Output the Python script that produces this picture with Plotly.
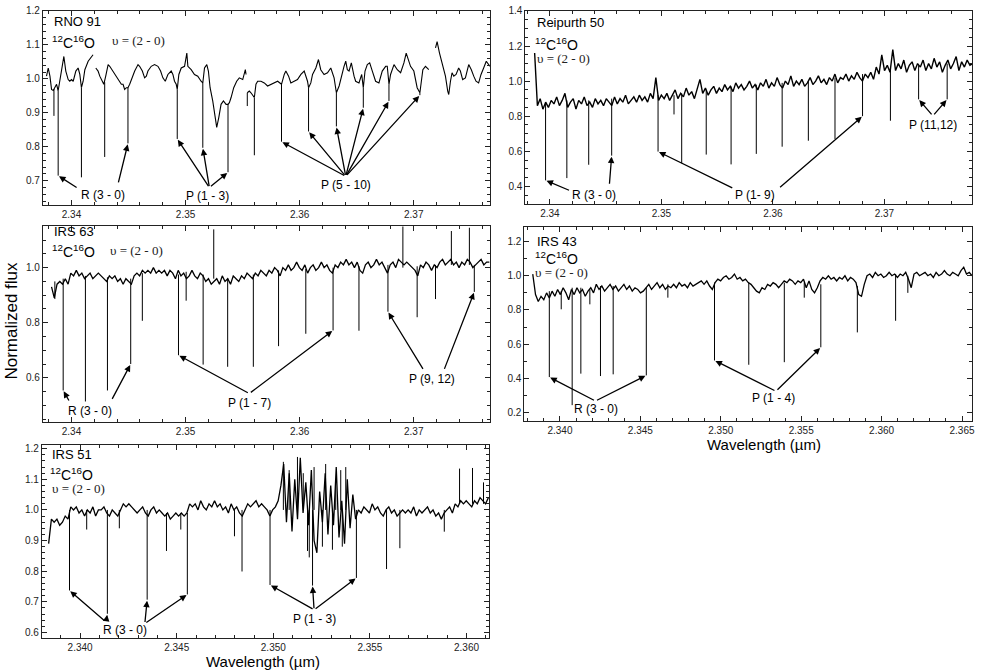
import numpy as np
import plotly.graph_objects as go

W, H = 981, 672

# ---------------- RNO 91 (irregularly read samples, None = gap) ----------------
RNO91_WL = [2.33781, 2.33796, 2.33811, 2.33825, 2.33840, 2.33854, 2.33869, 2.33883, 2.33898, 2.33913,
            2.33933, 2.33950, 2.33971, 2.33985, 2.34000, 2.34015, 2.34038, 2.34058, 2.34073, 2.34087,
            2.34102, 2.34117, 2.34146, 2.34189, 2.34201, 2.34213, 2.34233, 2.34248, 2.34271, 2.34283,
            2.34300, 2.34321, 2.34335, 2.34364, 2.34393, 2.34422, 2.34437, 2.34452, 2.34466, 2.34481,
            2.34495, 2.34510, 2.34524, 2.34554, 2.34583, 2.34597, 2.34621, 2.34641, 2.34656, 2.34670,
            2.34699, 2.34728, 2.34758, 2.34781, 2.34801, 2.34822, 2.34845, 2.34874, 2.34889, 2.34903,
            2.34918, 2.34927, 2.34941, 2.34962, 2.34991, 2.35011, 2.35020, 2.35049, 2.35078, 2.35107,
            2.35136, 2.35151, 2.35166, 2.35186, 2.35200, 2.35215, 2.35238, 2.35262, 2.35273, 2.35291,
            2.35311, 2.35332, 2.35355, 2.35372, 2.35384, 2.35399, 2.35422, 2.35448, 2.35471, 2.35501,
            2.35524, 2.35530, 2.35536, 2.35541, 2.35559, 2.35573, 2.35588, 2.35603, 2.35617, 2.35632,
            2.35661, 2.35690, 2.35719, 2.35748, 2.35778, 2.35807, 2.35841, 2.35850, 2.35865, 2.35879,
            2.35903, 2.35923, 2.35952, 2.35981, 2.36011, 2.36040, 2.36069, 2.36078, 2.36098, 2.36113,
            2.36142, 2.36165, 2.36185, 2.36214, 2.36244, 2.36273, 2.36302, 2.36316, 2.36322, 2.36346,
            2.36375, 2.36389, 2.36404, 2.36418, 2.36433, 2.36453, 2.36477, 2.36491, 2.36520, 2.36544,
            2.36558, 2.36573, 2.36593, 2.36614, 2.36637, 2.36666, 2.36695, 2.36724, 2.36754, 2.36768,
            2.36783, 2.36797, 2.36827, 2.36856, 2.36885, 2.36914, 2.36934, 2.36952, 2.36972, 2.37001,
            2.37030, 2.37054, 2.37068, 2.37080, 2.37103, 2.37132, 2.37150, 2.37191, 2.37205, 2.37226,
            2.37249, 2.37278, 2.37298, 2.37307, 2.37322, 2.37336, 2.37351, 2.37371, 2.37394, 2.37409,
            2.37429, 2.37453, 2.37482, 2.37505, 2.37526, 2.37546, 2.37569, 2.37590, 2.37613, 2.37636,
            2.37657, 2.37671]
RNO91_FLUX = [1.008, 1.032, 1.008, 0.969, 0.966, 0.974, 0.984, 0.965, 0.993, 1.023,
              1.066, 1.023, 0.998, 0.993, 0.998, 0.993, 1.023, 1.032, 1.013, 0.974,
              0.993, 1.027, 1.052, 1.071, None, 1.032, 1.023, 1.008, 0.993, 0.984,
              1.008, 1.042, 1.037, 1.023, 1.008, 0.993, 0.984, 0.984, 0.969, 0.974,
              0.974, 0.984, 0.998, 1.023, 1.042, 1.037, 1.023, 1.003, 1.008, 1.023,
              1.037, 1.042, 1.037, 1.023, 1.003, 0.993, 1.013, 1.023, 1.013, 0.993,
              0.984, 0.969, 1.013, 1.032, 1.037, 1.076, 1.037, 1.027, 1.013, 1.008,
              0.993, 0.988, 1.032, 1.042, 1.023, 0.974, 0.935, 0.886, 0.857, 0.886,
              0.925, 0.935, 0.925, 0.925, 0.930, 0.945, 0.974, 0.993, 1.003, 0.998,
              1.027, 1.013, None, 0.959, 0.964, 0.959, 0.950, 0.945, 0.984, 0.993,
              0.993, 0.988, 0.979, 0.984, 0.988, 0.993, 0.984, 0.998, 1.013, 1.023,
              1.008, 0.988, 0.993, 0.998, 1.013, 1.023, 0.993, 0.974, 0.988, 1.013,
              1.032, 1.057, 1.027, 1.013, 1.018, 1.032, 1.003, 0.964, 0.959, 0.979,
              1.023, 1.037, 1.052, 1.027, 1.023, 1.047, 1.008, 0.993, 0.988, 1.013,
              0.974, 1.023, 1.042, 1.047, 1.023, 0.993, 0.988, 1.023, 1.037, 1.037,
              0.984, 1.013, 1.042, 1.027, 1.018, 1.047, 1.076, 1.057, 1.037, 1.023,
              0.974, 0.959, 0.998, 1.027, 1.037, 1.027, None, 1.091, 1.110, 1.076,
              1.042, 1.008, 0.964, 0.954, 0.993, 1.018, 1.008, 1.013, 1.032, 1.023,
              0.998, 1.003, 1.042, 1.027, 1.008, 0.993, 0.988, 1.013, 1.032, 1.052,
              1.042, 1.037]
RNO91_LINE_WL = [2.33846, 2.33883, 2.34087, 2.34291, 2.34495, 2.34927, 2.35151, 2.35372,
                 2.35541, 2.35603, 2.35841, 2.36078, 2.36322, 2.36558, 2.36783, 2.37054]
RNO91_LINE_TOP = [0.970, 0.965, 0.974, 0.990, 0.974, 0.969, 0.988, 0.925,
                  0.959, 0.945, 0.984, 0.974, 0.959, 0.974, 0.984, 0.959]
RNO91_LINE_BOT = [0.891, 0.715, 0.710, 0.770, 0.810, 0.823, 0.797, 0.725,
                  0.920, 0.775, 0.815, 0.845, 0.860, 0.915, 0.935, 0.952]

# ---------------- Reipurth 50 (uniform sampling) ----------------
REI50_WL_RANGE = (2.33863, 2.37792)
REI50_FLUX = [1.16, 0.86, 0.90, 0.84, 0.88, 0.85, 0.89, 0.87, 0.91, 0.86,
              0.89, 0.93, 0.85, 0.88, 0.90, 0.84, 0.89, 0.87, 0.91, 0.86,
              0.88, 0.85, 0.90, 0.87, 0.89, 0.86, 0.90, 0.88, 0.86, 0.91,
              0.87, 0.90, 0.88, 0.92, 0.87, 0.89, 0.91, 0.88, 0.92, 0.89,
              0.91, 0.88, 0.93, 0.90, 1.02, 0.89, 0.92, 0.90, 0.93, 0.89,
              0.92, 0.95, 0.90, 0.93, 0.91, 0.96, 0.92, 0.94, 0.90, 0.95,
              1.01, 0.93, 0.96, 0.92, 0.95, 0.97, 0.93, 0.96, 0.94, 0.98,
              0.95, 0.97, 0.94, 0.99, 0.96, 0.98, 0.95, 0.97, 1.00, 0.96,
              0.98, 0.95, 0.99, 0.97, 1.01, 0.96, 0.99, 0.97, 1.02, 0.98,
              0.96, 1.00, 0.98, 1.03, 0.97, 1.00, 0.98, 1.01, 0.97, 0.99,
              1.02, 0.98, 1.00, 1.03, 0.99, 1.01, 0.98, 1.02, 1.00, 1.04,
              0.99, 1.02, 1.01, 1.04, 1.00, 1.03, 1.01, 1.05, 1.02, 1.00,
              1.04, 1.02, 1.05, 1.01, 1.08, 1.04, 1.15, 1.06, 1.09, 1.05,
              1.18, 1.06, 1.10, 1.07, 1.12, 1.05, 1.09, 1.11, 1.06, 1.10,
              1.08, 1.12, 1.06, 1.10, 1.07, 1.13, 1.08, 1.11, 1.05, 1.09,
              1.12, 1.07, 1.10, 1.14, 1.06, 1.11, 1.08, 1.12, 1.09, 1.10]
REI50_LINE_WL = [2.33961, 2.34152, 2.34348, 2.34554, 2.34970, 2.35113, 2.35182, 2.35402, 2.35625,
                 2.35851, 2.36083, 2.36318, 2.36557, 2.36804, 2.37054, 2.37307, 2.37563]
REI50_LINE_TOP = [0.88, 0.89, 0.89, 0.90, 0.92, 0.92, 0.93, 0.95, 0.97,
                  0.98, 0.99, 1.00, 1.02, 1.04, 1.07, 1.09, 1.10]
REI50_LINE_BOT = [0.434, 0.447, 0.523, 0.575, 0.598, 0.810, 0.532, 0.581, 0.525,
                  0.585, 0.626, 0.660, 0.670, 0.800, 0.774, 0.896, 0.896]

# ---------------- IRS 63 (uniform sampling) ----------------
IRS63_WL_RANGE = (2.33825, 2.37663)
IRS63_FLUX = [0.93, 0.89, 0.94, 0.95, 0.94, 0.96, 0.94, 0.98, 0.97, 0.99,
              0.97, 0.98, 0.96, 0.97, 0.98, 0.96, 0.97, 0.98, 0.97, 0.96,
              0.95, 0.97, 0.96, 0.97, 0.95, 0.96, 0.94, 0.96, 0.95, 0.94,
              0.97, 0.98, 0.97, 0.99, 0.98, 0.99, 0.98, 1.00, 0.98, 0.99,
              0.98, 0.99, 0.97, 0.99, 0.98, 0.96, 0.99, 0.97, 0.98, 0.96,
              0.97, 0.99, 0.97, 0.96, 0.98, 0.97, 0.95, 0.96, 0.94, 0.95,
              0.96, 0.94, 0.97, 0.95, 0.96, 0.94, 0.97, 0.96, 0.95, 0.97,
              0.96, 0.98, 0.97, 0.96, 0.98, 0.97, 0.99, 0.98, 0.97, 0.99,
              0.98, 1.00, 0.99, 0.97, 1.00, 0.99, 1.01, 0.99, 1.00, 1.02,
              1.00, 0.99, 1.01, 0.98, 1.00, 1.01, 0.99, 1.00, 1.02, 1.00,
              1.01, 0.99, 0.98, 1.01, 1.00, 1.02, 1.01, 1.03, 1.01, 1.02,
              1.00, 1.02, 0.99, 0.98, 1.01, 1.02, 1.00, 1.01, 1.03, 1.01,
              1.02, 1.00, 0.98, 1.01, 1.02, 1.00, 1.03, 1.02, 1.01, 1.02,
              1.01, 1.00, 0.99, 0.97, 1.01, 1.00, 1.02, 1.01, 0.99, 1.01,
              1.00, 1.02, 1.03, 1.01, 1.02, 1.03, 1.01, 1.02, 1.00, 1.02,
              1.01, 1.03, 1.02, 1.00, 1.01, 1.02, 1.03, 1.01, 1.02, 1.02]
IRS63_LINE_WL = [2.33854, 2.33927, 2.34122, 2.34315, 2.34519, 2.34621, 2.34938, 2.35005,
                 2.35154, 2.35369, 2.35594, 2.35815, 2.36054, 2.36293, 2.36520, 2.36774,
                 2.37030, 2.37191, 2.37531, 2.35247, 2.36905, 2.37330, 2.37488]
IRS63_LINE_TOP = [0.950, 0.960, 0.970, 0.965, 0.960, 0.980, 0.975, 0.985,
                  0.975, 0.960, 0.975, 0.990, 0.995, 1.000, 1.005, 1.010,
                  1.005, 1.010, 1.010, 0.960, 1.000, 1.010, 1.010]
IRS63_LINE_BOT = [0.886, 0.554, 0.514, 0.554, 0.650, 0.807, 0.682, 0.880,
                  0.648, 0.640, 0.640, 0.715, 0.760, 0.772, 0.771, 0.840,
                  0.820, 0.886, 0.912, 1.139, 1.150, 1.133, 1.145]

# ---------------- IRS 43 (uniform sampling) ----------------
IRS43_WL_RANGE = (2.33831, 2.36562)
IRS43_FLUX = [1.01, 0.89, 0.85, 0.88, 0.86, 0.90, 0.87, 0.91, 0.88, 0.92,
              0.89, 0.93, 0.90, 0.86, 0.92, 0.89, 0.93, 0.90, 0.92, 0.88,
              0.91, 0.93, 0.90, 0.95, 0.92, 0.94, 0.91, 0.93, 0.95, 0.92,
              0.94, 0.91, 0.93, 0.95, 0.92, 0.94, 0.91, 0.93, 0.92, 0.90,
              0.91, 0.93, 0.95, 0.92, 0.94, 0.96, 0.93, 0.95, 0.92, 0.94,
              0.93, 0.95, 0.93, 0.96, 0.94, 0.95, 0.93, 0.96, 0.94, 0.95,
              0.96, 0.97, 0.95, 0.97, 0.94, 0.92, 0.96, 0.98, 0.97, 0.99,
              1.00, 0.98, 0.99, 1.01, 0.98, 0.99, 0.97, 0.98, 0.96, 0.95,
              0.93, 0.91, 0.90, 0.93, 0.92, 0.95, 0.94, 0.96, 0.95, 0.93,
              0.95, 0.97, 0.96, 0.98, 0.97, 0.95, 0.97, 0.96, 0.98, 0.93,
              0.97, 0.92, 0.90, 0.93, 0.97, 0.99, 0.98, 1.00, 0.98, 0.99,
              0.97, 0.99, 0.98, 1.00, 0.97, 0.99, 0.98, 0.96, 0.89, 0.88,
              0.95, 1.00, 1.01, 0.99, 1.02, 1.00, 1.01, 0.99, 1.00, 1.02,
              1.00, 1.01, 0.99, 1.01, 1.00, 1.02, 0.98, 0.93, 1.01, 1.02,
              1.00, 1.01, 1.02, 1.00, 1.01, 0.99, 1.02, 1.00, 1.01, 1.03,
              1.01, 1.00, 1.02, 1.01, 1.00, 1.03, 1.05, 1.01, 1.02, 1.00]
IRS43_LINE_WL = [2.33934, 2.34008, 2.34076, 2.34130, 2.34186, 2.34252, 2.34331, 2.34537, 2.34671,
                 2.34961, 2.35174, 2.35395, 2.35519, 2.35622, 2.35849, 2.36087, 2.36163]
IRS43_LINE_TOP = [0.91, 0.91, 0.93, 0.93, 0.92, 0.94, 0.94, 0.93, 0.95,
                  0.96, 0.96, 0.96, 0.96, 0.95, 0.94, 1.01, 1.00]
IRS43_LINE_BOT = [0.408, 0.804, 0.244, 0.428, 0.833, 0.414, 0.424, 0.418, 0.872,
                  0.505, 0.480, 0.495, 0.872, 0.582, 0.669, 0.737, 0.900]

# ---------------- IRS 51 (uniform sampling) ----------------
IRS51_WL_RANGE = (2.33837, 2.36113)
IRS51_FLUX = [0.89, 0.97, 0.96, 0.97, 0.95, 0.96, 0.98, 0.97, 1.01, 1.00,
              1.01, 0.99, 1.00, 0.98, 1.00, 0.99, 1.01, 0.98, 1.00, 1.00,
              1.01, 0.99, 0.98, 1.00, 0.99, 0.98, 1.00, 1.02, 1.01, 1.02,
              1.01, 1.00, 0.99, 1.00, 1.01, 0.99, 0.98, 1.00, 1.01, 0.99,
              1.00, 0.99, 0.98, 0.99, 0.97, 0.98, 0.99, 0.98, 0.99, 0.98,
              0.99, 1.02, 1.01, 1.02, 1.00, 1.03, 1.01, 1.00, 1.02, 1.01,
              1.03, 1.01, 1.02, 1.00, 1.01, 0.99, 1.02, 1.00, 1.01, 0.99,
              0.98, 1.00, 1.02, 1.01, 1.02, 1.03, 1.01, 1.02, 1.01, 1.00,
              0.98, 1.00, 1.01, 1.03, 1.08, 1.15, 0.96, 1.12, 0.93, 1.10,
              0.97, 1.17, 0.99, 1.09, 0.95, 1.13, 0.90, 0.86, 1.06, 0.96,
              1.12, 0.92, 1.08, 0.95, 1.14, 0.91, 1.03, 0.89, 1.10, 0.94,
              1.05, 0.97, 1.00, 0.99, 1.01, 1.00, 0.99, 1.02, 1.00, 1.01,
              0.99, 0.98, 1.00, 1.01, 0.99, 1.00, 0.98, 0.99, 1.00, 0.99,
              1.00, 0.99, 1.01, 0.98, 1.00, 0.99, 1.00, 1.01, 0.99, 1.00,
              0.98, 0.99, 0.97, 0.99, 1.00, 1.01, 0.99, 1.02, 1.01, 1.03,
              1.02, 1.03, 1.02, 1.01, 1.03, 1.02, 1.04, 1.03, 1.02, 1.04]
IRS51_LINE_WL = [2.33945, 2.34034, 2.34141, 2.34203, 2.34347, 2.34447, 2.34521, 2.34555,
                 2.34799, 2.34838, 2.34983, 2.35203, 2.35430, 2.35586, 2.35655, 2.35885,
                 2.35964, 2.36031, 2.36088,
                 2.35052, 2.35082, 2.35125, 2.35155, 2.35211, 2.35271, 2.35323, 2.35349,
                 2.35375, 2.35177, 2.35186, 2.35254, 2.35306, 2.35357]
IRS51_LINE_TOP = [1.00, 1.00, 1.00, 1.00, 1.00, 0.99, 0.99, 0.99,
                  1.00, 1.00, 1.00, 1.00, 1.00, 1.00, 1.00, 1.00,
                  1.02, 1.02, 1.02,
                  1.00, 1.00, 1.00, 1.00, 1.00, 1.00, 1.00, 1.00,
                  1.00, 1.00, 1.00, 1.00, 1.00, 1.00]
IRS51_LINE_BOT = [0.737, 0.936, 0.661, 0.940, 0.707, 0.866, 0.936, 0.724,
                  0.914, 0.799, 0.755, 0.753, 0.778, 0.807, 0.875, 0.929,
                  1.135, 1.137, 1.090,
                  1.157, 1.130, 1.173, 1.120, 1.140, 1.150, 1.100, 1.130,
                  1.140, 0.866, 0.845, 0.880, 0.870, 0.880]

# ---------------- annotation texts & arrows ----------------
# arrows: (tail wavelength, tail flux, index of target line)
RNO91_LABELS = [("R (3 - 0)", 2.34277, 0.657), ("P (1 - 3)", 2.35195, 0.654), ("P (5 - 10)", 2.36404, 0.686)]
RNO91_ARROWS = [(2.34058, 0.677, 1), (2.34408, 0.691, 4),
                (2.35209, 0.680, 5), (2.35209, 0.680, 6), (2.35209, 0.680, 7),
                (2.36404, 0.713, 10), (2.36404, 0.713, 11), (2.36404, 0.713, 12),
                (2.36404, 0.713, 13), (2.36404, 0.713, 14), (2.36404, 0.713, 15)]
REI50_LABELS = [("R (3 - 0)", 2.34399, 0.349), ("P (1- 9)", 2.35842, 0.349), ("P (11,12)", 2.37435, 0.751)]
REI50_ARROWS = [(2.34185, 0.374, 0), (2.34533, 0.406, 3),
                (2.35649, 0.387, 4), (2.36051, 0.387, 13),
                (2.37435, 0.802, 15), (2.37435, 0.802, 16)]
IRS63_LABELS = [("R (3 - 0)", 2.34160, 0.478), ("P (1 - 7)", 2.35559, 0.507), ("P (9, 12)", 2.37161, 0.596)]
IRS63_ARROWS = [(2.33985, 0.512, 1), (2.34350, 0.518, 4),
                (2.35559, 0.543, 6), (2.35559, 0.543, 13),
                (2.37089, 0.627, 15), (2.37264, 0.627, 18)]
IRS43_LABELS = [("R (3 - 0)", 2.34227, 0.221), ("P (1 - 4)", 2.35329, 0.283)]
IRS43_ARROWS = [(2.34221, 0.268, 0), (2.34221, 0.268, 7),
                (2.35343, 0.325, 9), (2.35343, 0.325, 13)]
IRS51_LABELS = [("R (3 - 0)", 2.34232, 0.608), ("P (1 - 3)", 2.35211, 0.645)]
IRS51_ARROWS = [(2.34134, 0.634, 0), (2.34134, 0.634, 2),
                (2.34335, 0.629, 4), (2.34335, 0.629, 7),
                (2.35211, 0.674, 10), (2.35211, 0.674, 11), (2.35211, 0.674, 12)]

NAMES = ["RNO 91", "Reipurth 50", "IRS 63", "IRS 43", "IRS 51"]

# ---------------- layout geometry (pixels) ----------------
def fx(p):
    return p / W


def fy(p):
    return 1 - p / H


PANELS = [
    dict(name=NAMES[0], wl=RNO91_WL, flux=RNO91_FLUX, lw=RNO91_LINE_WL, lt=RNO91_LINE_TOP, lb=RNO91_LINE_BOT,
         labels=RNO91_LABELS, arrows=RNO91_ARROWS, box=(43, 492, 6, 201), xr=(2.33749, 2.37673), yr=(0.63, 1.2),
         xd=0.01, xm=0.002, xf=".2f", yd=0.1, ym=0.02, t=(52, 17), c=(50, 37), v=(110, 36), w=1.1),
    dict(name=NAMES[1], wl=np.linspace(*REI50_WL_RANGE, len(REI50_FLUX)), flux=REI50_FLUX,
         lw=REI50_LINE_WL, lt=REI50_LINE_TOP, lb=REI50_LINE_BOT,
         labels=REI50_LABELS, arrows=REI50_ARROWS, box=(527, 975, 6, 200), xr=(2.3378, 2.37786), yr=(0.302, 1.4),
         xd=0.01, xm=0.002, xf=".2f", yd=0.2, ym=0.05, t=(537, 18), c=(535, 39), v=(537, 54), w=1.4),
    dict(name=NAMES[2], wl=np.linspace(*IRS63_WL_RANGE, len(IRS63_FLUX)), flux=IRS63_FLUX,
         lw=IRS63_LINE_WL, lt=IRS63_LINE_TOP, lb=IRS63_LINE_BOT,
         labels=IRS63_LABELS, arrows=IRS63_ARROWS, box=(43, 492, 223, 420), xr=(2.33749, 2.37673), yr=(0.44, 1.15),
         xd=0.01, xm=0.002, xf=".2f", yd=0.2, ym=0.05, t=(52, 228), c=(50, 248), v=(108, 247), w=1.3),
    dict(name=NAMES[3], wl=np.linspace(*IRS43_WL_RANGE, len(IRS43_FLUX)), flux=IRS43_FLUX,
         lw=IRS43_LINE_WL, lt=IRS43_LINE_TOP, lb=IRS43_LINE_BOT,
         labels=IRS43_LABELS, arrows=IRS43_ARROWS, box=(526, 975, 224, 419), xr=(2.33779, 2.36562), yr=(0.152, 1.283),
         xd=0.005, xm=0.001, xf=".3f", yd=0.2, ym=0.1, t=(537, 238), c=(535, 255), v=(535, 270), w=1.3),
    dict(name=NAMES[4], wl=np.linspace(*IRS51_WL_RANGE, len(IRS51_FLUX)), flux=IRS51_FLUX,
         lw=IRS51_LINE_WL, lt=IRS51_LINE_TOP, lb=IRS51_LINE_BOT,
         labels=IRS51_LABELS, arrows=IRS51_ARROWS, box=(42, 491, 443, 638), xr=(2.33802, 2.36119), yr=(0.581, 1.213),
         xd=0.005, xm=0.001, xf=".3f", yd=0.1, ym=0.02, t=(50, 453), c=(48, 473), v=(50, 487), w=1.3),
]

SANS = "Liberation Sans, Arial, Helvetica, sans-serif"
SERIF = "Liberation Serif, Times New Roman, serif"
AX = "#222222"

fig = go.Figure()
annotations = []
layout_axes = {}

for i, p in enumerate(PANELS, start=1):
    xa = "x" if i == 1 else f"x{i}"
    ya = "y" if i == 1 else f"y{i}"
    fig.add_trace(go.Scatter(x=list(p["wl"]), y=p["flux"], mode="lines", xaxis=xa, yaxis=ya,
                             line=dict(color="black", width=p["w"]), connectgaps=False,
                             hoverinfo="skip", showlegend=False))
    sx, sy = [], []
    for w, t, b in zip(p["lw"], p["lt"], p["lb"]):
        sx += [w, w, None]
        sy += [t, b, None]
    fig.add_trace(go.Scatter(x=sx, y=sy, mode="lines", xaxis=xa, yaxis=ya,
                             line=dict(color="black", width=1.0), hoverinfo="skip", showlegend=False))
    x0, x1, y0, y1 = p["box"]
    common = dict(showline=True, linecolor=AX, linewidth=1, mirror="allticks", ticks="inside",
                  ticklen=5, tickwidth=1, tickcolor=AX, showgrid=False, zeroline=False,
                  ticklabeloverflow="allow",
                  tickfont=dict(family=SANS, size=10, color=AX))
    layout_axes["xaxis" if i == 1 else f"xaxis{i}"] = dict(
        common, domain=[fx(x0), fx(x1)], anchor=ya, range=list(p["xr"]), tick0=2.34, dtick=p["xd"],
        tickformat=p["xf"],
        minor=dict(ticks="inside", ticklen=3, tickcolor=AX, dtick=p["xm"], tick0=2.34, showgrid=False))
    layout_axes["yaxis" if i == 1 else f"yaxis{i}"] = dict(
        common, domain=[fy(y1), fy(y0)], anchor=xa, range=list(p["yr"]), tick0=0, dtick=p["yd"],
        tickformat=".1f",
        minor=dict(ticks="inside", ticklen=3, tickcolor=AX, dtick=p["ym"], tick0=0, showgrid=False))
    # panel texts
    annotations.append(dict(text=p["name"], x=fx(p["t"][0]), y=fy(p["t"][1]), xref="paper", yref="paper",
                            xanchor="left", yanchor="middle", showarrow=False,
                            font=dict(family=SANS, size=13, color="black")))
    annotations.append(dict(text="<sup>12</sup>C<sup>16</sup>O", x=fx(p["c"][0]), y=fy(p["c"][1]),
                            xref="paper", yref="paper", xanchor="left", yanchor="middle", showarrow=False,
                            font=dict(family=SANS, size=14, color="black")))
    annotations.append(dict(text="υ = (2 - 0)", x=fx(p["v"][0]), y=fy(p["v"][1]), xref="paper", yref="paper",
                            xanchor="left", yanchor="middle", showarrow=False,
                            font=dict(family=SERIF, size=13, color="#222")))
    for txt, lx, ly in p["labels"]:
        annotations.append(dict(text=txt, x=lx, y=ly, xref=xa, yref=ya, showarrow=False,
                                xanchor="center", yanchor="middle",
                                font=dict(family=SANS, size=12, color="black")))
    for tx, ty, k in p["arrows"]:
        annotations.append(dict(text="", x=p["lw"][k], y=p["lb"][k], xref=xa, yref=ya,
                                ax=tx, ay=ty, axref=xa, ayref=ya, showarrow=True,
                                arrowhead=2, arrowsize=1.0, arrowwidth=1.3, arrowcolor="black",
                                standoff=1))

# axis titles
annotations.append(dict(text="Normalized flux", x=fx(12), y=fy(318), xref="paper", yref="paper",
                        textangle=-90, showarrow=False, xanchor="center", yanchor="middle",
                        font=dict(family=SANS, size=17, color="black")))
annotations.append(dict(text="Wavelength (µm)", x=fx(766), y=fy(443), xref="paper", yref="paper",
                        showarrow=False, xanchor="center", yanchor="middle",
                        font=dict(family=SANS, size=15, color="black")))
annotations.append(dict(text="Wavelength (µm)", x=fx(264), y=fy(661), xref="paper", yref="paper",
                        showarrow=False, xanchor="center", yanchor="middle",
                        font=dict(family=SANS, size=15, color="black")))

fig.update_layout(width=W, height=H, margin=dict(l=0, r=0, t=0, b=0),
                  paper_bgcolor="white", plot_bgcolor="white", showlegend=False,
                  annotations=annotations, **layout_axes)

fig.write_html("out.html", config={"displayModeBar": False},
               post_script="document.body.style.margin='0';document.body.style.padding='0';")
